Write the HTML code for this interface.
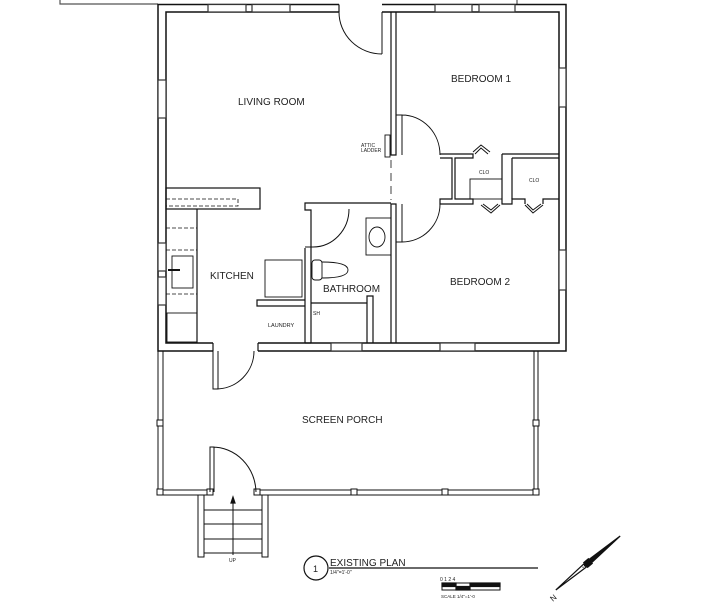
<!DOCTYPE html>
<html><head><meta charset="utf-8"><style>
html,body{margin:0;padding:0;background:#fff;width:723px;height:604px;overflow:hidden}
svg{display:block}
text{font-family:"Liberation Sans",sans-serif;fill:#222}
</style></head><body>
<svg width="723" height="604" viewBox="0 0 723 604" xmlns="http://www.w3.org/2000/svg">
<g fill="none" stroke="#111" stroke-width="1.2">
<polyline points="60,0 60,4 158,4" stroke="#555"/>
<line x1="517" y1="0" x2="517" y2="5" stroke="#555"/>
<rect x="158" y="4.5" width="408" height="346.5" stroke-width="1.5"/>
<rect x="166" y="12" width="393" height="331" stroke-width="1.5"/>
<g stroke="#333" fill="#fff">
<rect x="208" y="4.5" width="38" height="7.5"/><rect x="252" y="4.5" width="38" height="7.5"/>
<rect x="435" y="4.5" width="37" height="7.5"/><rect x="479" y="4.5" width="36" height="7.5"/>
<rect x="331" y="343" width="31" height="8"/><rect x="440" y="343" width="35" height="8"/>
<rect x="158" y="80" width="8" height="38"/><rect x="158" y="243" width="8" height="28"/><rect x="158" y="277" width="8" height="28"/>
<rect x="559" y="68" width="7" height="39"/><rect x="559" y="250" width="7" height="40"/>
</g>
<rect x="339" y="3" width="43" height="10" fill="#fff" stroke="none"/>
<line x1="339" y1="4.5" x2="339" y2="12"/>
<path d="M382,12 L382,54 M339,12 A43,42 0 0 0 382,54" stroke-width="1"/>
<polyline points="391,12 391,155 396,155 396,12"/>
<line x1="391" y1="160" x2="391" y2="200" stroke-dasharray="8,5" stroke-width="0.8"/>
<polyline points="391,343 391,204 396,204 396,343"/>
<rect x="385" y="135" width="5" height="22" stroke-width="0.9"/>
<path d="M396,115 L402,115 L402,155 M402,115 A38,40 0 0 1 440,155" stroke-width="1"/>
<path d="M396,242 L402,242 L402,204 M440,204 A38,38 0 0 1 402,242" stroke-width="1"/>
<polyline points="440,154 473,154 473,158 455,158 455,199 473,199 473,204 440,204 440,199 452,199 452,158 440,158 Z"/>
<polyline points="502,154 559,154"/>
<polyline points="502,154 502,199"/>
<polyline points="512,158 559,158"/>
<polyline points="512,158 512,199"/>
<polyline points="502,199 502,204 512,204 512,199 525,199 525,204"/>
<polyline points="543,204 543,199 550,199"/>
<polyline points="550,199 559,199 M550,204 559,204"/>
<rect x="470" y="179" width="32" height="20" stroke-width="0.9"/>
<path d="M473,152 L481,145 L490,152 M475,154 L481,148 L488,154" stroke-width="1"/>
<path d="M481,205 L491,213 L500,205 M483,204 L491,210 L498,204" stroke-width="1"/>
<path d="M525,205 L533,213 L543,205 M527,204 L533,210 L541,204" stroke-width="1"/>
<rect x="166" y="188" width="94" height="21"/>
<rect x="166" y="199" width="72" height="7" stroke-dasharray="4,2" stroke-width="0.8"/>
<line x1="197" y1="209" x2="197" y2="343"/>
<g stroke-dasharray="4,2" stroke-width="0.8"><line x1="166" y1="228" x2="197" y2="228"/><line x1="166" y1="250" x2="197" y2="250"/><line x1="166" y1="294" x2="197" y2="294"/></g>
<rect x="172" y="256" width="21" height="32" stroke-width="0.9"/>
<line x1="168" y1="270" x2="180" y2="270" stroke-width="2"/>
<rect x="167" y="313" width="30" height="29" stroke-width="0.9"/>
<rect x="265" y="260" width="37" height="37" stroke-width="0.9"/>
<polyline points="305,300 257,300 257,306 305,306" />
<polyline points="391,203 305,203 305,210 311,210 311,343"/>
<polyline points="305,248 305,343"/>
<line x1="305" y1="343" x2="311" y2="343"/>
<path d="M349,209 A36,38 0 0 1 313,247 L305,247" stroke-width="1"/>
<rect x="366" y="218" width="25" height="37" stroke-width="0.9"/>
<ellipse cx="377" cy="237" rx="8" ry="10" stroke-width="0.9"/>
<rect x="312" y="260" width="10" height="20" rx="3" stroke-width="0.9"/>
<path d="M322,262 Q348,262 348,270 Q348,278 322,278" stroke-width="0.9"/>
<line x1="311" y1="303" x2="367" y2="303"/>
<polyline points="367,343 367,296 373,296 373,343"/>
<rect x="213" y="342" width="45" height="10" fill="#fff" stroke="none"/>
<line x1="213" y1="343" x2="213" y2="351"/>
<line x1="258" y1="343" x2="258" y2="351"/>
<g stroke-width="1">
<line x1="158" y1="351" x2="158" y2="493"/><line x1="163" y1="351" x2="163" y2="493"/>
<line x1="534" y1="351" x2="534" y2="493"/><line x1="538" y1="351" x2="538" y2="493"/>
<line x1="158" y1="490" x2="209" y2="490"/><line x1="158" y1="495" x2="209" y2="495"/>
<line x1="258" y1="490" x2="538" y2="490"/><line x1="258" y1="495" x2="538" y2="495"/>
<g fill="#fff"><rect x="157" y="420" width="6" height="6"/><rect x="533" y="420" width="6" height="6"/>
<rect x="157" y="489" width="6" height="6"/><rect x="207" y="489" width="6" height="6"/><rect x="254" y="489" width="6" height="6"/>
<rect x="351" y="489" width="6" height="6"/><rect x="442" y="489" width="6" height="6"/><rect x="533" y="489" width="6" height="6"/></g>
<path d="M213,351 L213,389 L218,389 L218,351 M216,389 A38,38 0 0 0 254,351"/>
<path d="M210,492 L210,447 L214,447 L214,492 M212,447 A44,46 0 0 1 256,492"/>
<rect x="198" y="495" width="6" height="62"/><rect x="262" y="495" width="6" height="62"/>
<line x1="204" y1="510" x2="262" y2="510"/><line x1="204" y1="524" x2="262" y2="524"/><line x1="204" y1="539" x2="262" y2="539"/><line x1="204" y1="553" x2="262" y2="553"/>
<line x1="233" y1="555" x2="233" y2="499"/>
</g>
<path d="M233,497 L231,503 L235,503 Z" fill="#111"/>
<circle cx="316" cy="568" r="12"/>
<line x1="329" y1="568" x2="538" y2="568"/>
<rect x="442" y="583" width="58" height="7" stroke-width="1"/>
<rect x="442" y="583" width="14" height="3.5" fill="#111"/><rect x="456" y="586.5" width="14" height="3.5" fill="#111"/><rect x="470" y="583" width="30" height="3.5" fill="#111"/>
<g transform="translate(588,563) rotate(-40)">
<path d="M4,-2 L42,0 L4,2 Z" fill="#111"/>
<path d="M-4,-2 L-42,0 L-4,2 Z" fill="#fff"/>
<rect x="-3" y="-3" width="6" height="6" fill="#111"/>
<line x1="-7" y1="0" x2="7" y2="0" stroke-dasharray="1,1"/>
</g>
</g>
<text x="238" y="105" font-size="10">LIVING ROOM</text>
<text x="451" y="82" font-size="10">BEDROOM 1</text>
<text x="450" y="285" font-size="10">BEDROOM 2</text>
<text x="210" y="279" font-size="10">KITCHEN</text>
<text x="323" y="292" font-size="10">BATHROOM</text>
<text x="302" y="423" font-size="10">SCREEN PORCH</text>
<text x="361" y="147" font-size="5">ATTIC</text>
<text x="361" y="152" font-size="5">LADDER</text>
<text x="479" y="174" font-size="5">CLO</text>
<text x="529" y="182" font-size="5">CLO</text>
<text x="268" y="327" font-size="5.5">LAUNDRY</text>
<text x="313" y="315" font-size="5">SH</text>
<text x="229" y="562" font-size="5">UP</text>
<text x="313" y="572" font-size="9">1</text>
<text x="330" y="566" font-size="10">EXISTING PLAN</text>
<text x="330" y="574" font-size="5">1/4"=1'-0"</text>
<text x="440" y="581" font-size="5">0   1   2          4</text>
<text x="441" y="598" font-size="4.5">SCALE  1/4"=1'-0</text>
<text x="550" y="600" font-size="8" transform="rotate(-40 554 597)">N</text>
</svg>
</body></html>
